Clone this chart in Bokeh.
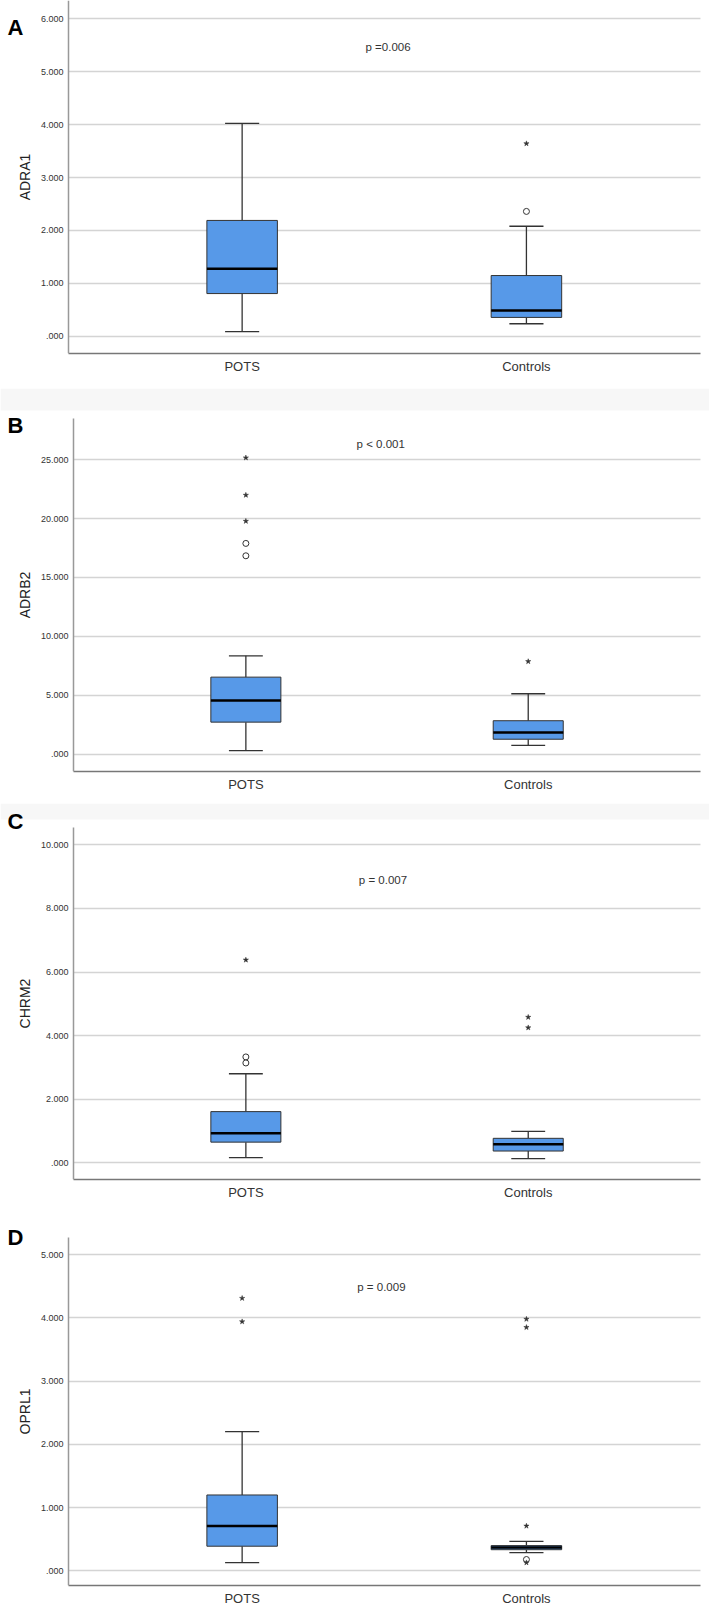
from bokeh.plotting import figure
from bokeh.models import Range1d, FixedTicker, Label, BoxAnnotation
from bokeh.layouts import column
from bokeh.embed import file_html
from bokeh.resources import INLINE

FONT = "Liberation Sans"
groups = ["POTS", "Controls"]

# ---------------- data ----------------
# Panel A - ADRA1
a_lower = [0.09, 0.24]
a_q1 = [0.81, 0.36]
a_median = [1.28, 0.49]
a_q3 = [2.19, 1.15]
a_upper = [4.02, 2.08]
a_circle_group = ["Controls"]
a_circle_value = [2.36]
a_star_group = ["Controls"]
a_star_value = [3.64]
a_ticks = [0, 1, 2, 3, 4, 5, 6]
a_tick_labels = [".000", "1.000", "2.000", "3.000", "4.000", "5.000", "6.000"]
a_p_text = "p =0.006"

# Panel B - ADRB2
b_lower = [0.31, 0.74]
b_q1 = [2.72, 1.27]
b_median = [4.56, 1.84]
b_q3 = [6.54, 2.84]
b_upper = [8.35, 5.13]
b_circle_group = ["POTS", "POTS"]
b_circle_value = [17.89, 16.84]
b_star_group = ["POTS", "POTS", "POTS", "Controls"]
b_star_value = [25.16, 21.99, 19.78, 7.87]
b_ticks = [0, 5, 10, 15, 20, 25]
b_tick_labels = [".000", "5.000", "10.000", "15.000", "20.000", "25.000"]
b_p_text = "p < 0.001"

# Panel C - CHRM2
c_lower = [0.16, 0.13]
c_q1 = [0.65, 0.37]
c_median = [0.93, 0.58]
c_q3 = [1.61, 0.77]
c_upper = [2.80, 0.99]
c_circle_group = ["POTS", "POTS"]
c_circle_value = [3.33, 3.14]
c_star_group = ["POTS", "Controls", "Controls"]
c_star_value = [6.38, 4.58, 4.25]
c_ticks = [0, 2, 4, 6, 8, 10]
c_tick_labels = [".000", "2.000", "4.000", "6.000", "8.000", "10.000"]
c_p_text = "p = 0.007"

# Panel D - OPRL1
d_lower = [0.13, 0.29]
d_q1 = [0.39, 0.335]
d_median = [0.71, 0.37]
d_q3 = [1.20, 0.40]
d_upper = [2.20, 0.465]
d_circle_group = ["Controls"]
d_circle_value = [0.18]
d_star_group = ["POTS", "POTS", "Controls", "Controls", "Controls", "Controls"]
d_star_value = [4.31, 3.94, 3.98, 3.85, 0.71, 0.13]
d_ticks = [0, 1, 2, 3, 4, 5]
d_tick_labels = [".000", "1.000", "2.000", "3.000", "4.000", "5.000"]
d_p_text = "p = 0.009"

# ---------------- styling / layout ----------------
BOX_FILL = "#5799e8"
EDGE = "#333333"
BAND = "#f7f7f7"
BOX_W = 0.248
CAP_W = 0.12
W = 709


def panel(letter, ylabel, lower, q1, med, q3, upper, cg, cv, sg, sv, ticks, tlabels, ptext,
          x_range, axis_x, grid_right, y_range, axis_top, height, bottom,
          p_xy, letter_xy, band_bottom=None, label_standoff=5):
    xs = [i + 1 for i in range(len(groups))]
    pos = {g: i + 1 for i, g in enumerate(groups)}
    p = figure(width=W, height=height,
               x_range=Range1d(*x_range), y_range=Range1d(*y_range),
               output_backend="svg", toolbar_location=None,
               min_border_left=0, min_border_right=0,
               min_border_top=0, min_border_bottom=bottom)
    p.outline_line_color = None
    p.background_fill_color = "white"
    p.border_fill_color = "white"

    if band_bottom is not None:
        p.add_layout(BoxAnnotation(bottom=band_bottom, fill_color=BAND, fill_alpha=1.0,
                                   line_color=None, level="underlay"))

    p.xgrid.visible = False
    p.ygrid.ticker = FixedTicker(ticks=ticks)
    p.ygrid.grid_line_color = "#d4d4d4"
    p.ygrid.grid_line_width = 1.3
    p.ygrid.cross_bounds = (axis_x, grid_right)

    ya = p.yaxis[0]
    ya.fixed_location = axis_x
    ya.bounds = (y_range[0], axis_top)
    ya.ticker = FixedTicker(ticks=ticks)
    ya.major_label_overrides = {t: l for t, l in zip(ticks, tlabels)}
    ya.major_tick_out = 0
    ya.major_tick_in = 0
    ya.minor_tick_out = 0
    ya.minor_tick_in = 0
    ya.major_label_standoff = 5
    ya.major_label_text_font = FONT
    ya.major_label_text_font_size = "9px"
    ya.major_label_text_color = "#333333"
    ya.axis_line_color = "#999999"
    ya.axis_line_width = 1.5
    ya.axis_label = ylabel
    ya.axis_label_text_font = FONT
    ya.axis_label_text_font_size = "14px"
    ya.axis_label_text_font_style = "normal"
    ya.axis_label_text_color = "#222222"
    ya.axis_label_standoff = 5

    xa = p.xaxis[0]
    xa.bounds = (axis_x, grid_right)
    xa.ticker = FixedTicker(ticks=xs)
    xa.major_label_overrides = {x: g for x, g in zip(xs, groups)}
    xa.major_tick_out = 0
    xa.major_tick_in = 0
    xa.minor_tick_out = 0
    xa.minor_tick_in = 0
    xa.major_label_standoff = label_standoff
    xa.major_label_text_font = FONT
    xa.major_label_text_font_size = "13px"
    xa.major_label_text_color = "#333333"
    xa.axis_line_color = "#777777"
    xa.axis_line_width = 1.5

    # whiskers
    p.segment(x0=xs, y0=q3, x1=xs, y1=upper, line_color=EDGE, line_width=1.3)
    p.segment(x0=xs, y0=q1, x1=xs, y1=lower, line_color=EDGE, line_width=1.3)
    # caps
    p.segment(x0=[x - CAP_W / 2 for x in xs], y0=upper, x1=[x + CAP_W / 2 for x in xs], y1=upper,
              line_color=EDGE, line_width=1.3)
    p.segment(x0=[x - CAP_W / 2 for x in xs], y0=lower, x1=[x + CAP_W / 2 for x in xs], y1=lower,
              line_color=EDGE, line_width=1.3)
    # boxes
    p.vbar(x=xs, width=BOX_W, bottom=q1, top=q3, fill_color=BOX_FILL, line_color=EDGE, line_width=1)
    # medians
    p.segment(x0=[x - BOX_W / 2 for x in xs], y0=med, x1=[x + BOX_W / 2 for x in xs], y1=med,
              line_color="black", line_width=2.5)
    # outliers
    if cv:
        p.scatter(x=[pos[g] for g in cg], y=cv, marker="circle", size=6,
                  fill_color="white", line_color=EDGE, line_width=1)
    if sv:
        p.scatter(x=[pos[g] for g in sg], y=sv, marker="star", size=5.5,
                  fill_color=EDGE, line_color=EDGE, line_width=0.5)

    p.add_layout(Label(x=p_xy[0], y=p_xy[1], text=ptext, text_font=FONT,
                       text_font_size="11.5px", text_color="#333333",
                       text_baseline="middle", text_align="left"))
    p.add_layout(Label(x=letter_xy[0], y=letter_xy[1], text=letter, text_font=FONT,
                       text_font_size="22px", text_font_style="bold", text_color="black",
                       text_baseline="alphabetic", text_align="left"))
    return p


figA = panel("A", "ADRA1", a_lower, a_q1, a_median, a_q3, a_upper,
             a_circle_group, a_circle_value, a_star_group, a_star_value,
             a_ticks, a_tick_labels, a_p_text,
             x_range=(0.150, 2.644), axis_x=0.389, grid_right=2.612,
             y_range=(-0.321, 6.340), axis_top=6.340, height=388, bottom=35,
             p_xy=(1.434, 5.46), letter_xy=(0.175, 5.83))
figB = panel("B", "ADRB2", b_lower, b_q1, b_median, b_q3, b_upper,
             b_circle_group, b_circle_value, b_star_group, b_star_value,
             b_ticks, b_tick_labels, b_p_text,
             x_range=(0.131, 2.642), axis_x=0.390, grid_right=2.610,
             y_range=(-1.47, 31.04), axis_top=28.47, height=415, bottom=32,
             p_xy=(1.392, 26.29), letter_xy=(0.156, 27.9), band_bottom=29.18)
figC = panel("C", "CHRM2", c_lower, c_q1, c_median, c_q3, c_upper,
             c_circle_group, c_circle_value, c_star_group, c_star_value,
             c_ticks, c_tick_labels, c_p_text,
             x_range=(0.131, 2.642), axis_x=0.390, grid_right=2.610,
             y_range=(-0.525, 11.30), axis_top=10.55, height=407, bottom=31,
             p_xy=(1.400, 8.88), letter_xy=(0.156, 10.74), band_bottom=10.80)
figD = panel("D", "OPRL1", d_lower, d_q1, d_median, d_q3, d_upper,
             d_circle_group, d_circle_value, d_star_group, d_star_value,
             d_ticks, d_tick_labels, d_p_text,
             x_range=(0.150, 2.644), axis_x=0.389, grid_right=2.612,
             y_range=(-0.231, 5.697), axis_top=5.277, height=398, bottom=21,
             p_xy=(1.405, 4.48), letter_xy=(0.175, 5.27), label_standoff=5)

layout = column(figA, figB, figC, figD, spacing=0)
open("out.html", "w").write(file_html(layout, INLINE))
